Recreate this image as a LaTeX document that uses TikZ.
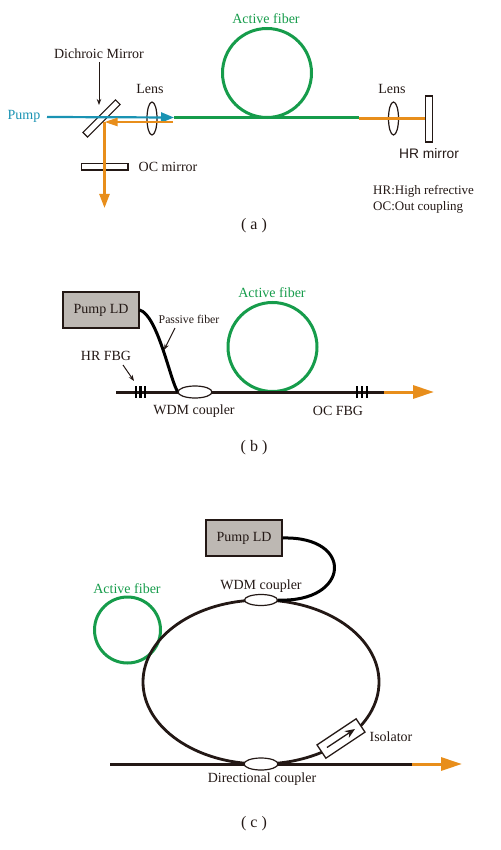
\documentclass[tikz,border=0pt]{standalone}
\usepackage{fontspec}
\setmainfont{Liberation Serif}
\newfontfamily\sansf{Liberation Sans}
\usetikzlibrary{arrows.meta,shapes.geometric}
\definecolor{fgreen}{HTML}{169C4B}
\definecolor{forange}{HTML}{E88E1B}
\definecolor{fblue}{HTML}{1A93B3}
\definecolor{ink}{HTML}{231815}
\definecolor{ldgray}{HTML}{BDB8B3}
\tikzset{
 lbl/.style={text=ink,inner sep=0pt,font=\fontsize{14}{16}\selectfont},
 note/.style={text=ink,inner sep=0pt,anchor=west,font=\fontsize{13}{15}\selectfont},
 glbl/.style={text=fgreen,inner sep=0pt,font=\fontsize{14}{16}\selectfont},
 capt/.style={text=ink,inner sep=0pt,font=\fontsize{16}{18}\selectfont},
 optic/.style={draw=ink,line width=1.1pt,fill=white,inner sep=0pt,minimum width=0pt,minimum height=0pt,rectangle},
 lensnode/.style={draw=ink,line width=1.2pt,ellipse,inner sep=0pt,minimum width=10pt,minimum height=33pt},
 coupler/.style={draw=ink,line width=1.2pt,fill=white,ellipse,inner sep=0pt,minimum width=34pt,minimum height=12pt},
 ldbox/.style={draw=ink,line width=1.2pt,fill=ldgray,inner sep=0pt,minimum width=76pt,minimum height=36pt,text=ink,font=\fontsize{14}{16}\selectfont},
 coil/.style={draw=fgreen,line width=3pt,circle,inner sep=0pt},
 fibre/.style={draw=ink,line width=3pt},
 grn/.style={draw=fgreen,line width=3.2pt},
 org/.style={draw=forange,line width=2.4pt},
 bigorg/.style={draw=forange,line width=3pt,-{Triangle[length=21pt,width=13pt,fill=forange]}},
 thin arrow/.style={draw=ink,line width=1pt,-{Stealth[length=6pt,width=4.5pt]}},
 tick/.style={draw=black,line width=2.2pt},
}
\begin{document}
\begin{tikzpicture}[x=1pt,y=-1pt]
\useasboundingbox (0,0) rectangle (500,850);
% ---------- (a)
\coordinate (pumpstart) at (47,117);
\coordinate (fibL) at (174,117.5);
\coordinate (fibR) at (359,117.5);
\coordinate (retL) at (173,122);
\coordinate (fold) at (104.5,122);
\coordinate (outa) at (104.5,208);
\coordinate (dmtip) at (99,105);
\node[coil,minimum size=89pt] (acoil) at (267,73) {};
\node[lensnode] (lens1) at (152,118.5) {};
\node[lensnode] (lens2) at (393.5,118.5) {};
\node[optic,minimum width=46pt,minimum height=6.5pt,rotate=45] (dm) at (101.5,118.5) {};
\node[optic,minimum width=46.5pt,minimum height=6.5pt] (ocm) at (104.75,166.75) {};
\node[optic,minimum width=6.5pt,minimum height=46pt] (hrm) at (429,119) {};
\draw[grn] (fibL) -- (fibR);
\draw[org] (fibR |- 0,118.5) coordinate (hrs) -- (hrm.west |- hrs);
\draw[draw=fblue,line width=2.2pt,-{Triangle[length=13pt,width=10pt,fill=fblue]}] (pumpstart) -- (fibL);
\draw[draw=forange,line width=2.2pt,-{Triangle[length=13pt,width=8pt,fill=forange]}] (retL) -- (fold);
\draw[draw=forange,line width=2.4pt,-{Triangle[length=14pt,width=10pt,fill=forange]}] (fold) -- (outa);
\node[lbl] (dmt) at (99,54) {Dichroic Mirror};
\draw[thin arrow] (99,62) -- (dmtip);
\node[text=fblue,inner sep=0pt,font=\fontsize{14}{16}\selectfont] (pumpt) at (24,116) {Pump};
\node[lbl] (l1t) at (150,89) {Lens};
\node[lbl] (l2t) at (392,89) {Lens};
\node[glbl] (aft) at (266,19) {Active fiber};
\node[lbl] (ocmt) at (168,167) {OC mirror};
\node[text=ink,inner sep=0pt,font=\sansf\fontsize{13.8}{16}\selectfont] (hrmt) at (429,154) {HR mirror};
\node[note] (n1) at (373,191) {HR:High refrective};
\node[note] (n2) at (373,207) {OC:Out coupling};
\node[capt] (capa) at (254,226) {( a )};
% ---------- (b)
\node[ldbox] (ldb) at (101,310) {Pump LD};
\node[coil,minimum size=89pt] (bcoil) at (272.5,347) {};
\coordinate (bs) at (116,392);
\coordinate (be) at (384,392);
\coordinate (bt) at (434,392);
\draw[fibre] (bs) -- (be);
\draw[bigorg] (be) -- (bt);
\foreach \x in {136,140.5,145,357,362,367}{\draw[tick] (\x,386) -- (\x,398);}
\draw[line width=3pt,draw=black] (ldb.east) .. controls (158,315) and (171,384) .. (178,392);
\node[coupler] (wdmb) at (195,392) {};
\node[glbl] at (272,293) {Active fiber};
\node[text=ink,inner sep=0pt,font=\fontsize{11.8}{13}\selectfont] (pft) at (189,319) {Passive fiber};
\draw[thin arrow] (175,328) -- (164,350);
\node[lbl] (hrt) at (106,356) {HR FBG};
\draw[thin arrow] (123,365) -- (134,381);
\node[lbl] at (194,411) {WDM coupler};
\node[lbl] at (338,411) {OC FBG};
\node[capt] at (254,448) {( b )};
% ---------- (c)
\node[ldbox] (ldc) at (244,538) {Pump LD};
\node[coil,minimum size=66pt] (ccoil) at (127.5,630) {};
\node[draw=ink,line width=2.8pt,ellipse,inner sep=0pt,minimum width=236pt,minimum height=164pt] (ring) at (261,682) {};
\coordinate (cs) at (110,764);
\coordinate (ce) at (412,764);
\coordinate (ct) at (462,764);
\draw[fibre] (cs) -- (ce);
\draw[bigorg] (ce) -- (ct);
\draw[line width=3pt,draw=black] (ldc.east) .. controls (355,536) and (350,603) .. (278,600);
\node[coupler,minimum width=33pt,minimum height=11pt] (wdmc) at (261,600) {};
\node[coupler] (dc) at (261,764) {};
\node[optic,line width=1.3pt,minimum width=47pt,minimum height=16pt,rotate=33.7] (iso) at (341,738.5) {};
\draw[line width=1.3pt,draw=ink,-{Stealth[length=10pt,width=8pt]}] (327,747.5) -- (355,729);
\node[glbl] at (127,589) {Active fiber};
\node[lbl] at (261,586) {WDM coupler};
\node[lbl] at (391,737) {Isolator};
\node[lbl] at (262,779) {Directional coupler};
\node[capt] at (254,824) {( c )};
\end{tikzpicture}
\end{document}
